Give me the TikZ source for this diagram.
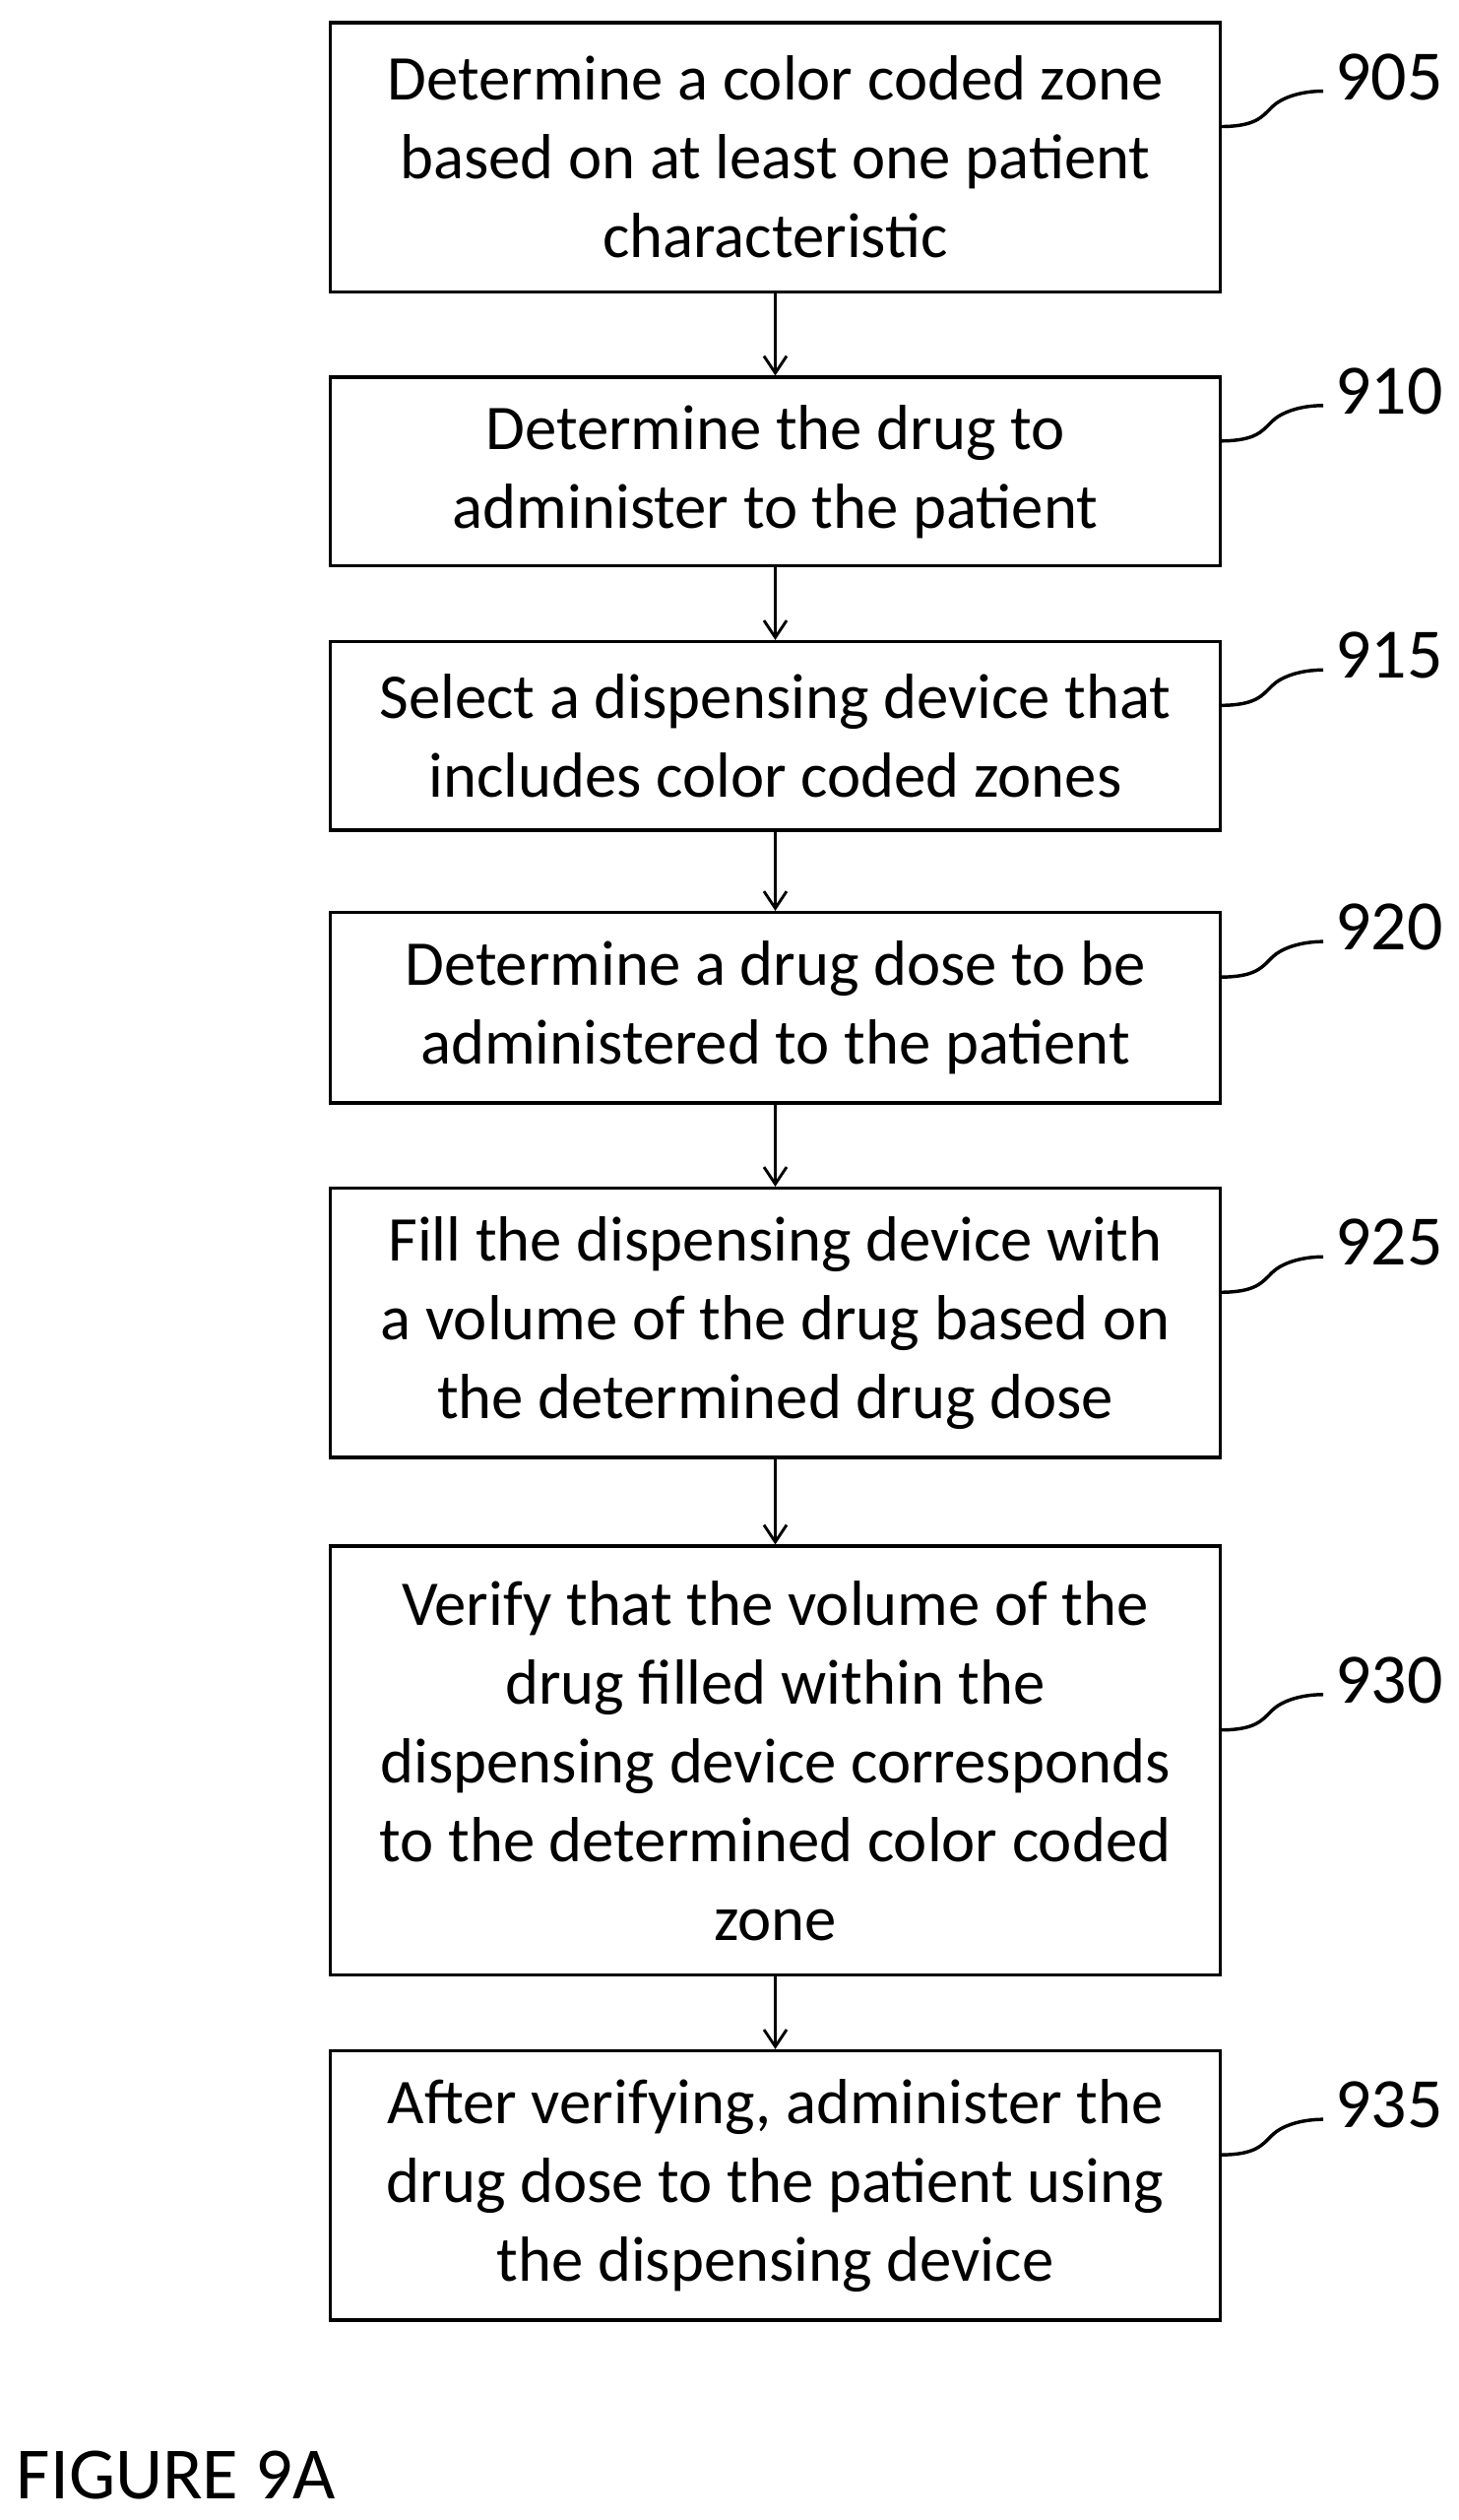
\documentclass[tikz,border=0pt]{standalone}
\usepackage{fontspec}
\setmainfont{Carlito}
\usetikzlibrary{arrows.meta}
\begin{document}
\begin{tikzpicture}[x=0.02cm,y=-0.02cm,
  box/.style={draw,line width=1.2pt,inner sep=0,align=center,font=\fontsize{22.5}{27.8}\selectfont},
  lbl/.style={font=\fontsize{25}{28}\selectfont,anchor=west,inner sep=0},
  arr/.style={-{Straight Barb[length=6pt,width=8pt]},line width=1pt},
  sq/.style={line width=1.2pt}]
\useasboundingbox (0,0) rectangle (905,1563);
\newcommand{\bx}[5]{\node[box,minimum width=552*0.02cm,minimum height={(#3-#2)*0.02cm}] (#1) at (481,{(#2+#3)/2}) {#4};
  \coordinate (s#1) at (757,{(#2+#3)/2-19});
  \draw[sq] (s#1) .. controls ++(22,0) and ++(-6,6) .. ++(32,-12) .. controls ++(6,-6) and ++(-14,0) .. ++(32,-10) coordinate (e#1);
  \node[lbl] (l#1) at ([xshift=4,yshift=5]e#1) {#5};}
\bx{b1}{14}{181}{Determine a color coded zone\\based on at least one patient\\characteristic}{905}
\bx{b2}{234}{351}{Determine the drug to\\administer to the patient}{910}
\bx{b3}{398}{515}{Select a dispensing device that\\includes color coded zones}{915}
\bx{b4}{566}{684}{Determine a drug dose to be\\administered to the patient}{920}
\bx{b5}{737}{904}{Fill the dispensing device with\\a volume of the drug based on\\the determined drug dose}{925}
\bx{b6}{959}{1225}{Verify that the volume of the\\drug filled within the\\dispensing device corresponds\\to the determined color coded\\zone}{930}
\bx{b7}{1272}{1439}{After verifying, administer the\\drug dose to the patient using\\the dispensing device}{935}
\foreach \a/\b in {b1/b2,b2/b3,b3/b4,b4/b5,b5/b6,b6/b7} \draw[arr] (\a) -- (\b);
\node[lbl,font=\fontsize{26}{30}\selectfont] (fig) at (10,1535) {FIGURE 9A};
\end{tikzpicture}
\end{document}
